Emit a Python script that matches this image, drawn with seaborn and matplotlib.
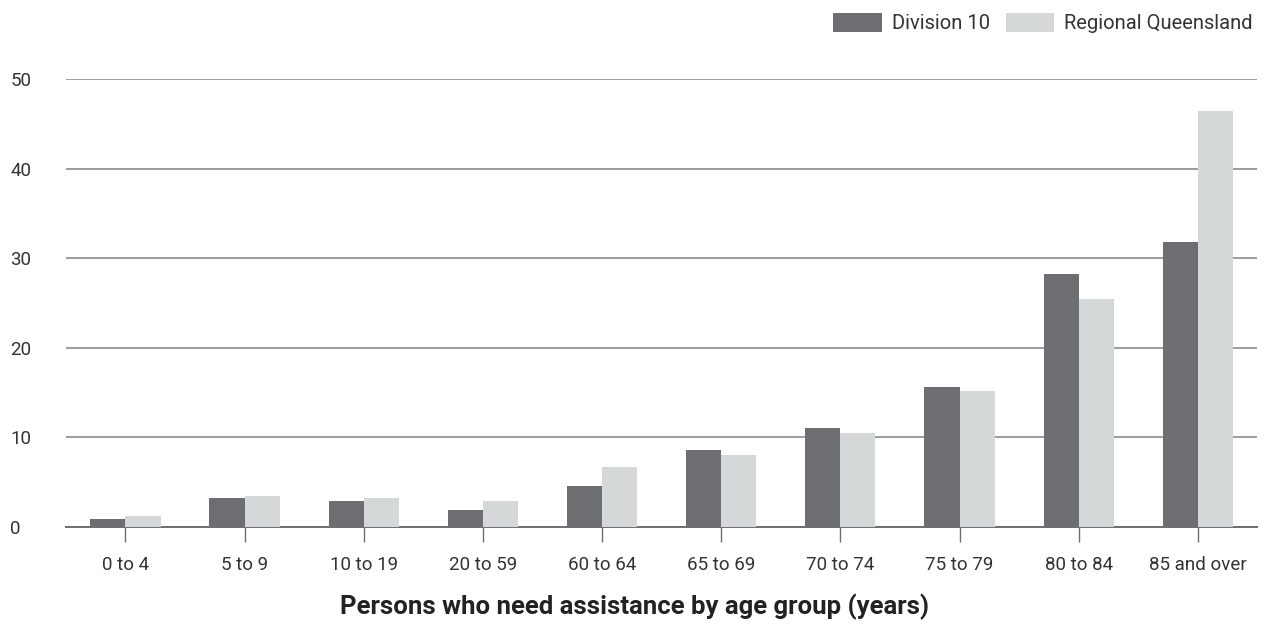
import matplotlib
matplotlib.use("Agg")
import matplotlib.pyplot as plt
import seaborn as sns
import pandas as pd

# values
age_groups = ['0 to 4', '5 to 9', '10 to 19', '20 to 59', '60 to 64',
              '65 to 69', '70 to 74', '75 to 79', '80 to 84', '85 and over']
division_10 = [0.9, 3.2, 2.9, 1.9, 4.6, 8.6, 11.0, 15.6, 28.2, 31.8]
regional_qld = [1.2, 3.5, 3.2, 2.9, 6.7, 8.0, 10.5, 15.2, 25.4, 46.5]
series_names = ['Division 10', 'Regional Queensland']
colours = ['#6d6e71', '#d5d8d9']

df = pd.DataFrame({'age': age_groups * 2,
                   'value': division_10 + regional_qld,
                   'series': [series_names[0]] * 10 + [series_names[1]] * 10})

sns.set_style('white')
plt.rcParams['font.family'] = ['Roboto', 'DejaVu Sans']

fig = plt.figure(figsize=(12.65, 6.34), dpi=100)
ax = fig.add_axes([0.052, 0.169, 0.942, 0.706])

sns.barplot(data=df, x='age', y='value', hue='series', palette=colours,
            width=0.59, saturation=1, linewidth=0, ax=ax, zorder=3)

ax.set_ylim(0, 50)
ax.set_yticks([0, 10, 20, 30, 40, 50])
ax.yaxis.grid(True, color='#8c8c8c', linewidth=1.2, zorder=0)
ax.set_axisbelow(True)
for s in ['top', 'right', 'left']:
    ax.spines[s].set_visible(False)
ax.spines['bottom'].set_color('#6d6e71')
ax.spines['bottom'].set_linewidth(1.4)
ax.set_xlim(-0.5, 9.5)

ax.tick_params(axis='y', length=0, pad=40, labelsize=13.5, labelcolor='#333333')
ax.tick_params(axis='x', length=11, width=1, color='#6d6e71', pad=10,
               labelsize=13.5, labelcolor='#333333', bottom=True)
for t in ax.get_yticklabels():
    t.set_horizontalalignment('left')

ax.set_ylabel('')
ax.set_xlabel('Persons who need assistance by age group (years)',
              fontsize=18.5, fontweight='bold', color='#222222')
ax.xaxis.set_label_coords(0.477, -0.15)

leg = ax.legend(loc='lower right', bbox_to_anchor=(1.003, 1.085), ncol=2,
                frameon=False, fontsize=14.5, handlelength=2.4, handleheight=1.1,
                handletextpad=0.5, columnspacing=0.8, borderaxespad=0)
for t in leg.get_texts():
    t.set_color('#333333')

fig.savefig('out.png', dpi=100)
